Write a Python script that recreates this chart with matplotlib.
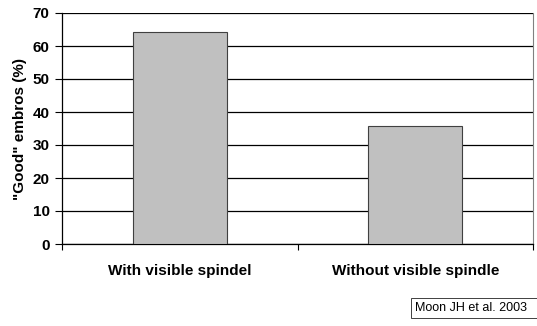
import matplotlib.pyplot as plt
import numpy as np

# data
categories = ["With visible spindel", "Without visible spindle"]
good_pct = [64.2, 35.8]
y_ticks = [0, 10, 20, 30, 40, 50, 60, 70]

plt.rcParams['font.family'] = ['Liberation Sans', 'DejaVu Sans']

fig = plt.figure(figsize=(5.37, 3.26), dpi=100)
ax = fig.add_axes([62 / 537, 1 - 244 / 326, (533 - 62) / 537, (244 - 13) / 326])

x = np.arange(len(categories))
ax.bar(x, good_pct, width=0.4, color='#C0C0C0', edgecolor='#404040', linewidth=0.8, zorder=3)

ax.set_xlim(-0.5, len(categories) - 0.5)
ax.set_ylim(0, 70)
ax.set_yticks(y_ticks)
ax.set_yticklabels([str(t) for t in y_ticks], fontsize=11, fontweight='bold')
ax.yaxis.grid(True, color='black', linewidth=0.9, zorder=0)

# category labels centred, ticks on category boundaries
ax.set_xticks(np.arange(-0.5, len(categories)))
ax.set_xticklabels([])
ax.tick_params(axis='x', direction='out', length=4, width=0.8)
ax.tick_params(axis='y', direction='out', length=5, width=0.8, pad=4)
for xi, lab in zip(x, categories):
    ax.text(xi, -0.085, lab, transform=ax.get_xaxis_transform(), ha='center', va='top',
            fontsize=11, fontweight='bold')

ax.set_ylabel('"Good" embros (%)', fontsize=11, fontweight='bold', labelpad=4)

ax.spines['top'].set_visible(False)
ax.spines['right'].set_color('#808080')
ax.spines['left'].set_linewidth(0.9)
ax.spines['bottom'].set_linewidth(0.9)

fig.text(415 / 537, 1 - 308 / 326, "Moon JH et al. 2003  ", ha='left', va='center', fontsize=9,
         bbox=dict(boxstyle='square,pad=0.35', facecolor='white', edgecolor='#404040', linewidth=0.7))

fig.savefig("out.png", dpi=100)
